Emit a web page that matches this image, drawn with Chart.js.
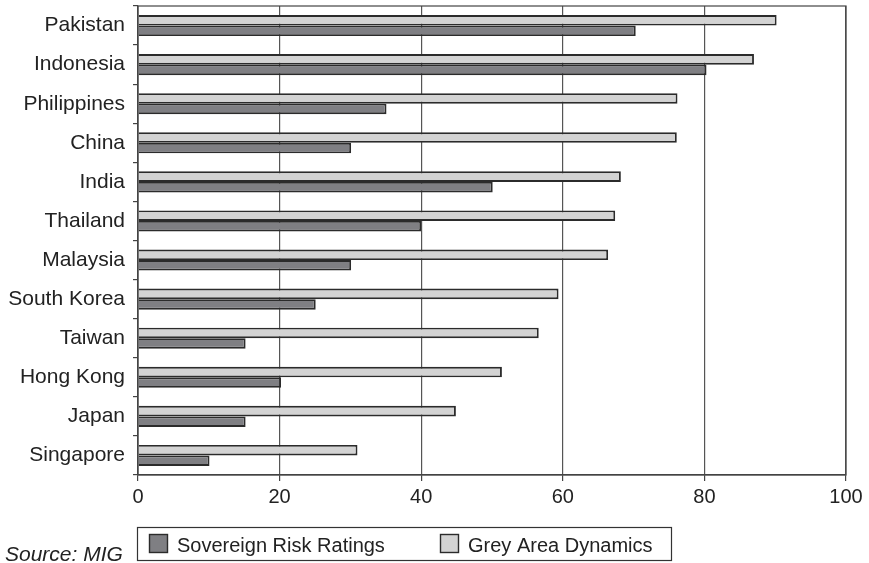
<!DOCTYPE html>
<html>
<head>
<meta charset="utf-8">
<script src="https://cdn.jsdelivr.net/npm/chart.js@4"></script>
<style>
    html, body { margin: 0; padding: 0; background: #ffffff; }
    #wrap { width: 869px; height: 563px; position: relative; }
</style>
</head>
<body>
<div id="wrap"><canvas id="riskChart"></canvas></div>
<script>
const countries = ["Pakistan", "Indonesia", "Philippines", "China", "India", "Thailand",
    "Malaysia", "South Korea", "Taiwan", "Hong Kong", "Japan", "Singapore"];
const sovereignRisk = [70.3, 80.3, 35.1, 30.1, 50.1, 40.0, 30.1, 25.1, 15.2, 20.2, 15.2, 10.1];
const greyArea = [90.2, 87.0, 76.2, 76.1, 68.2, 67.4, 66.4, 59.4, 56.6, 51.4, 44.9, 31.0];
const xTicks = [0, 20, 40, 60, 80, 100];

const DARK = "#7f7f83";
const LIGHT = "#d3d3d3";
const EDGE = "#2b2b2b";
const FONT = "'Liberation Sans', Arial, sans-serif";

// frame round the plot, legend box and source note
const extrasPlugin = {
    id: "extras",
    afterDraw(chart) {
        const ctx = chart.ctx;
        const a = chart.chartArea;
        ctx.save();
        ctx.strokeStyle = "#444";
        ctx.lineWidth = 1.2;
        ctx.strokeRect(a.left, a.top, a.right - a.left, a.bottom - a.top);

        // legend box
        ctx.strokeStyle = "#333";
        ctx.lineWidth = 1.2;
        ctx.strokeRect(137.5, 527.5, 534, 33);

        const items = [chart.data.datasets[1], chart.data.datasets[0]];
        const xs = [149, 440];
        ctx.font = "20px " + FONT;
        ctx.textBaseline = "alphabetic";
        ctx.textAlign = "left";
        items.forEach((ds, i) => {
            ctx.fillStyle = ds.backgroundColor;
            ctx.fillRect(xs[i], 534, 19, 19);
            ctx.strokeStyle = EDGE;
            ctx.lineWidth = 1.4;
            ctx.strokeRect(xs[i] + 0.5, 534.5, 18, 18);
            ctx.fillStyle = "#222";
            ctx.fillText(ds.label, xs[i] + 28, 551.5);
        });

        ctx.font = "italic 21px " + FONT;
        ctx.fillStyle = "#222";
        ctx.fillText("Source: MIG", 5, 561);
        ctx.restore();
    }
};

const ctx = document.getElementById("riskChart").getContext("2d");
const riskChart = new Chart(ctx, {
    type: "bar",
    data: {
        labels: countries,
        datasets: [{
            label: "Grey Area Dynamics",
            data: greyArea,
            backgroundColor: LIGHT,
            borderColor: EDGE,
            borderWidth: 1.9,
            borderSkipped: "start"
        }, {
            label: "Sovereign Risk Ratings",
            data: sovereignRisk,
            backgroundColor: DARK,
            borderColor: EDGE,
            borderWidth: 1.9,
            borderSkipped: "start"
        }]
    },
    options: {
        indexAxis: "y",
        responsive: true,
        maintainAspectRatio: false,
        animation: false,
        layout: {
            padding: { left: 0, right: 23, top: 6, bottom: 0 }
        },
        datasets: {
            bar: { categoryPercentage: 0.54, barPercentage: 1.0 }
        },
        scales: {
            x: {
                min: 0,
                max: 100,
                afterBuildTicks: scale => {
                    scale.ticks = xTicks.map(v => ({ value: v }));
                },
                afterFit: scale => { scale.height = 88; },
                grid: {
                    color: "#555",
                    lineWidth: 1.2,
                    tickLength: 6,
                    tickColor: "#444"
                },
                border: { color: "#444", width: 1.2 },
                ticks: {
                    color: "#222",
                    padding: 4,
                    font: { family: FONT, size: 20 }
                }
            },
            y: {
                afterFit: scale => {
                    scale.width = 138;
                    scale.paddingTop = 0;
                    scale.paddingBottom = 0;
                },
                grid: {
                    offset: true,
                    drawOnChartArea: false,
                    tickLength: 5,
                    tickColor: "#444",
                    lineWidth: 1.2
                },
                border: { color: "#444", width: 1.2 },
                ticks: {
                    color: "#222",
                    padding: 8,
                    font: { family: FONT, size: 21 }
                }
            }
        },
        plugins: {
            legend: { display: false },
            tooltip: { enabled: false }
        }
    },
    plugins: [extrasPlugin]
});
</script>
</body>
</html>
